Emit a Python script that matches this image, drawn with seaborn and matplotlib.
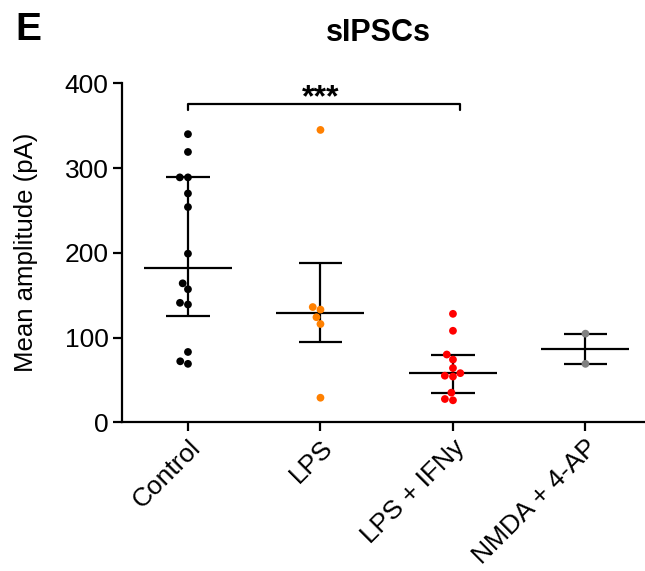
import numpy as np
import pandas as pd
import matplotlib
matplotlib.use("Agg")
import matplotlib.pyplot as plt
import seaborn as sns

# Mean sIPSC amplitude (pA) per recording, by treatment group
groups = ["Control", "LPS", "LPS + IFNy", "NMDA + 4-AP"]
control = [340, 319, 289, 289, 270, 254, 199, 164, 157, 141, 139, 83, 72, 69]
lps = [345, 136, 133, 124, 116, 29]
lps_ifn = [128, 108, 80, 74, 64, 58, 55, 54, 35, 27.5, 26]
nmda_4ap = [104.6, 69]
colors = ["#000000", "#FF8000", "#FF0000", "#808080"]
yticks = [0, 100, 200, 300, 400]

values = [control, lps, lps_ifn, nmda_4ap]
df = pd.DataFrame({
    "group": np.repeat(groups, [len(v) for v in values]),
    "amp": np.concatenate(values),
})

sns.set_theme(style="ticks")
plt.rcParams["font.family"] = ["Liberation Sans", "DejaVu Sans"]
plt.rcParams.update({
    "text.color": "black",
    "axes.labelcolor": "black",
    "xtick.color": "black",
    "ytick.color": "black",
    "axes.edgecolor": "black",
})

fig = plt.figure(figsize=(6.45, 5.71), dpi=100)
ax = fig.add_axes([0.1887, 0.2604, 0.8217, 0.5937])

sns.swarmplot(data=df, x="group", y="amp", hue="group", order=groups,
              hue_order=groups, palette=colors, size=5.6, linewidth=0,
              legend=False, ax=ax, zorder=3)

# Median with interquartile range for each group
lw = 1.6
for i, v in enumerate(values):
    q1, med, q3 = np.percentile(v, [25, 50, 75], method="weibull")
    ax.hlines(med, i - 0.332, i + 0.332, color="black", lw=lw, zorder=2)
    ax.hlines([q1, q3], i - 0.163, i + 0.163, color="black", lw=lw, zorder=2)
    ax.vlines(i, q1, q3, color="black", lw=lw, zorder=2)

# Significance bracket: Control vs LPS + IFNy
ax.plot([0, 0, 2.05, 2.05], [368, 376, 376, 368], color="black", lw=lw,
        clip_on=False, zorder=4)
ax.text(1.0, 373.5, "***", ha="center", va="baseline", fontsize=23,
        fontweight="bold")

ax.set_xlim(-0.5, 3.5)
ax.set_ylim(0, 400)
ax.set_yticks(yticks)
ax.set_xlabel("")
ax.set_ylabel("Mean amplitude (pA)", fontsize=18.5, labelpad=19)
ax.tick_params(axis="both", labelsize=19, length=6.5, width=lw,
               color="black", labelcolor="black", pad=3)
plt.setp(ax.get_xticklabels(), rotation=45, ha="right",
         rotation_mode="anchor")
sns.despine(ax=ax)
for s in ("left", "bottom"):
    ax.spines[s].set_linewidth(lw)
    ax.spines[s].set_color("black")

fig.text(378 / 645, 1 - 33 / 571, "sIPSCs", ha="center", va="center",
         fontsize=22, fontweight="bold")
fig.text(15 / 645, 1 - 30 / 571, "E", ha="left", va="center",
         fontsize=28, fontweight="bold")

fig.savefig("out.png", dpi=100)
